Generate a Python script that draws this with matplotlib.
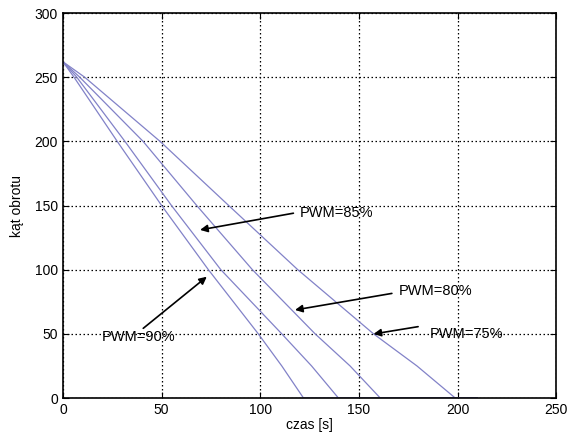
import matplotlib.pyplot as plt

# angle of rotation vs time for four PWM settings
angle = [262, 250, 200, 150, 100, 50, 25, 0, 0]
t_pwm90 = [0, 5.6, 27.5, 50, 73.7, 99, 110.9, 121.9, 210]
t_pwm85 = [0, 7.0, 31.4, 55, 80, 110.9, 126, 139.6, 210]
t_pwm80 = [0, 8.5, 40.6, 67.8, 96, 127.8, 145.5, 160.8, 210]
t_pwm75 = [0, 11.0, 49.2, 84, 119, 157.4, 179.4, 198.8, 210]

# annotations: label, text position, arrow head
labels = ['PWM=85%', 'PWM=80%', 'PWM=75%', 'PWM=90%']
text_xy = [(120, 144.5), (170, 83), (186, 50), (19.5, 47.5)]
head_xy = [(69.5, 131), (117.6, 68.6), (157.4, 49.9), (72.9, 94.5)]
tail_xy = [(116.8, 144), (166.7, 81.5), (180, 55.6), (40.7, 54.3)]

plt.rcParams['font.family'] = ['Liberation Sans', 'DejaVu Sans']

fig = plt.figure(figsize=(5.67, 4.41), dpi=100)
ax = fig.add_axes([0.111, 0.0975, 0.87, 0.873])

line_color = '#8282c8'
for t in (t_pwm90, t_pwm85, t_pwm80, t_pwm75):
    ax.plot(t, angle, color=line_color, lw=0.9)

for lab, txy, hxy, sxy in zip(labels, text_xy, head_xy, tail_xy):
    ax.text(txy[0], txy[1], lab, fontsize=10.5, va='center', ha='left')
    ax.annotate('', xy=hxy, xytext=sxy,
                arrowprops=dict(arrowstyle='-|>', color='k', lw=1.2,
                                mutation_scale=11, shrinkA=0, shrinkB=0))

ax.set_xlim(0, 250)
ax.set_ylim(0, 300)
ax.set_xticks([0, 50, 100, 150, 200, 250])
ax.set_yticks([0, 50, 100, 150, 200, 250, 300])
ax.grid(True, color='k', linestyle=(0, (1.2, 2.0)), lw=0.9)
ax.tick_params(direction='in', top=True, right=True, labelsize=10, length=4)
for s in ax.spines.values():
    s.set_linewidth(1.2)

ax.set_xlabel('czas [s]', fontsize=10, labelpad=1)
ax.set_ylabel('kąt obrotu', fontsize=10, labelpad=8)

fig.savefig('out.png', dpi=100)
